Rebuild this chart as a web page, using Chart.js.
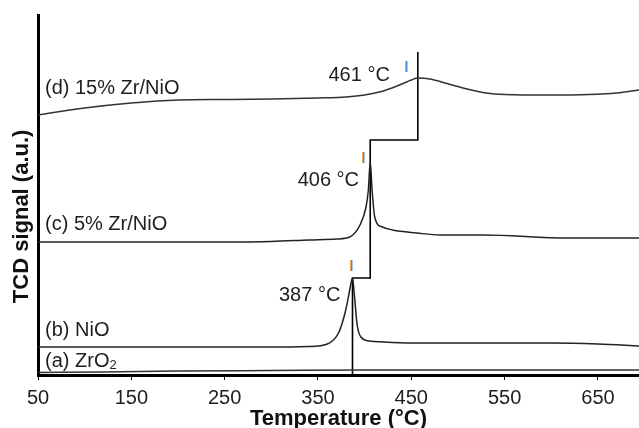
<!DOCTYPE html>
<html>
<head>
<meta charset="utf-8">
<script src="https://cdn.jsdelivr.net/npm/chart.js@4"></script>
<style>
  html, body { margin: 0; padding: 0; background: #fff; }
  #wrap { width: 639px; height: 428px; position: relative; }
</style>
</head>
<body>
<div id="wrap"><canvas id="c"></canvas></div>
<script>
// ---- Data (temperature in °C, TCD signal in a.u.) ----
const tickValues = [50, 150, 250, 350, 450, 550, 650];

const tempA = [50, 120, 200, 300, 400, 500, 600, 694];
const sigA  = [2.5, 3, 4, 4.5, 5, 5, 5, 5];

const tempB = [50, 150, 250, 300, 340, 360, 372, 379, 383, 385, 387, 389, 392, 396, 405, 420, 450, 550, 600, 650, 694];
const sigB  = [28, 28, 28, 28, 28.5, 31, 42, 62, 80, 90, 97, 80, 50, 38, 34, 33, 32, 32, 32, 31, 29];

const tempC = [50, 150, 250, 300, 340, 370, 384, 395, 401.5, 404, 406, 408, 411, 419, 430, 456, 481, 527, 617, 694];
const sigC  = [133, 133, 133, 133.5, 135, 136, 138, 150, 168, 185, 213, 185, 157, 148, 145, 142, 140, 140, 137, 137];

const tempD = [50, 100, 150, 200, 250, 300, 350, 380, 400, 420, 440, 450, 457, 470, 490, 510, 530, 550, 600, 640, 670, 694];
const sigD  = [260, 267, 272, 275, 275.5, 276, 277, 278, 280, 284, 291, 295, 297, 296, 291, 286, 282, 280.5, 280, 280.5, 282, 285];

// connector drawn through the peak maxima
const tempLink = [387, 387, 406, 406, 457, 457];
const sigLink  = [0, 97, 97, 235, 235, 323];

const seriesLabels = ['(d) 15% Zr/NiO', '(c) 5% Zr/NiO', '(b) NiO', '(a) ZrO'];
const peakLabels = ['461 °C', '406 °C', '387 °C'];

const pts = (xs, ys) => xs.map((x, i) => ({ x: x, y: ys[i] }));

const lineDs = (label, xs, ys, color, width, mono) => ({
  label: label,
  data: pts(xs, ys),
  borderColor: color,
  borderWidth: width,
  pointRadius: 0,
  fill: false,
  tension: 0,
  cubicInterpolationMode: mono ? 'monotone' : 'default'
});

const annot = {
  id: 'annot',
  afterDatasetsDraw(chart) {
    const ctx = chart.ctx;
    const xs = chart.scales.x, ys = chart.scales.y;
    const left = chart.chartArea.left;
    ctx.save();
    ctx.fillStyle = '#1e1e1e';
    ctx.font = '20px "Liberation Sans", Arial, sans-serif';
    ctx.textBaseline = 'middle';
    ctx.textAlign = 'left';
    // series labels (positioned just above each baseline)
    ctx.fillText(seriesLabels[0], left + 7, ys.getPixelForValue(287));
    ctx.fillText(seriesLabels[1], left + 7, ys.getPixelForValue(151));
    ctx.fillText(seriesLabels[2], left + 7, ys.getPixelForValue(45));
    ctx.fillText(seriesLabels[3], left + 7, ys.getPixelForValue(14));
    const w = ctx.measureText(seriesLabels[3]).width;
    ctx.font = '13px "Liberation Sans", Arial, sans-serif';
    ctx.fillText('2', left + 7 + w, ys.getPixelForValue(10));
    // peak labels
    ctx.font = '20px "Liberation Sans", Arial, sans-serif';
    ctx.textAlign = 'right';
    ctx.fillText(peakLabels[0], xs.getPixelForValue(427), ys.getPixelForValue(300));
    ctx.fillText(peakLabels[1], xs.getPixelForValue(394), ys.getPixelForValue(195));
    ctx.fillText(peakLabels[2], xs.getPixelForValue(374), ys.getPixelForValue(80));
    // small peak markers
    const marks = [[385.5, 110], [398, 218], [444, 309]];
    marks.forEach(m => {
      const px = Math.round(xs.getPixelForValue(m[0]));
      const py = ys.getPixelForValue(m[1]);
      ctx.fillStyle = '#f0a550';
      ctx.fillRect(px - 1, py - 5, 1, 11);
      ctx.fillStyle = '#4f8fd6';
      ctx.fillRect(px, py - 5, 1.5, 11);
    });
    ctx.restore();
  }
};

new Chart(document.getElementById('c'), {
  type: 'line',
  data: {
    datasets: [
      lineDs('(a) ZrO2', tempA, sigA, '#333', 1.5, true),
      lineDs('(b) NiO', tempB, sigB, '#222', 1.5, true),
      lineDs('(c) 5% Zr/NiO', tempC, sigC, '#222', 1.5, true),
      lineDs('(d) 15% Zr/NiO', tempD, sigD, '#333', 1.5, true),
      lineDs('peak link', tempLink, sigLink, '#000', 1.6, false)
    ]
  },
  options: {
    responsive: true,
    maintainAspectRatio: false,
    animation: false,
    events: [],
    layout: { padding: { top: 15, right: 0, left: 0, bottom: 0 } },
    plugins: { legend: { display: false }, tooltip: { enabled: false } },
    scales: {
      x: {
        type: 'linear',
        min: 50,
        max: 694,
        afterBuildTicks: (axis) => { axis.ticks = tickValues.map(v => ({ value: v })); },
        afterFit: (scale) => { scale.height = 53; },
        border: { display: true, color: '#000', width: 3 },
        grid: { display: true, drawOnChartArea: false, drawTicks: true, tickLength: 5, color: '#000', lineWidth: 1 },
        ticks: {
          color: '#1e1e1e',
          padding: 6,
          maxRotation: 0,
          autoSkip: false,
          font: { family: '"Liberation Sans", Arial, sans-serif', size: 20 }
        },
        title: {
          display: true,
          text: 'Temperature (°C)',
          color: '#111',
          padding: { top: 0, bottom: 0 },
          font: { family: '"Liberation Sans", Arial, sans-serif', size: 22, weight: 'bold', lineHeight: 0.85 }
        }
      },
      y: {
        type: 'linear',
        min: 0,
        max: 360,
        afterFit: (scale) => { scale.width = 38; },
        border: { display: true, color: '#000', width: 3 },
        grid: { display: false },
        ticks: { display: false },
        title: {
          display: true,
          text: 'TCD signal (a.u.)       ',
          color: '#111',
          padding: { top: 9, bottom: 0 },
          font: { family: '"Liberation Sans", Arial, sans-serif', size: 22, weight: 'bold', lineHeight: 1.2 }
        }
      }
    }
  },
  plugins: [annot]
});
</script>
</body>
</html>
